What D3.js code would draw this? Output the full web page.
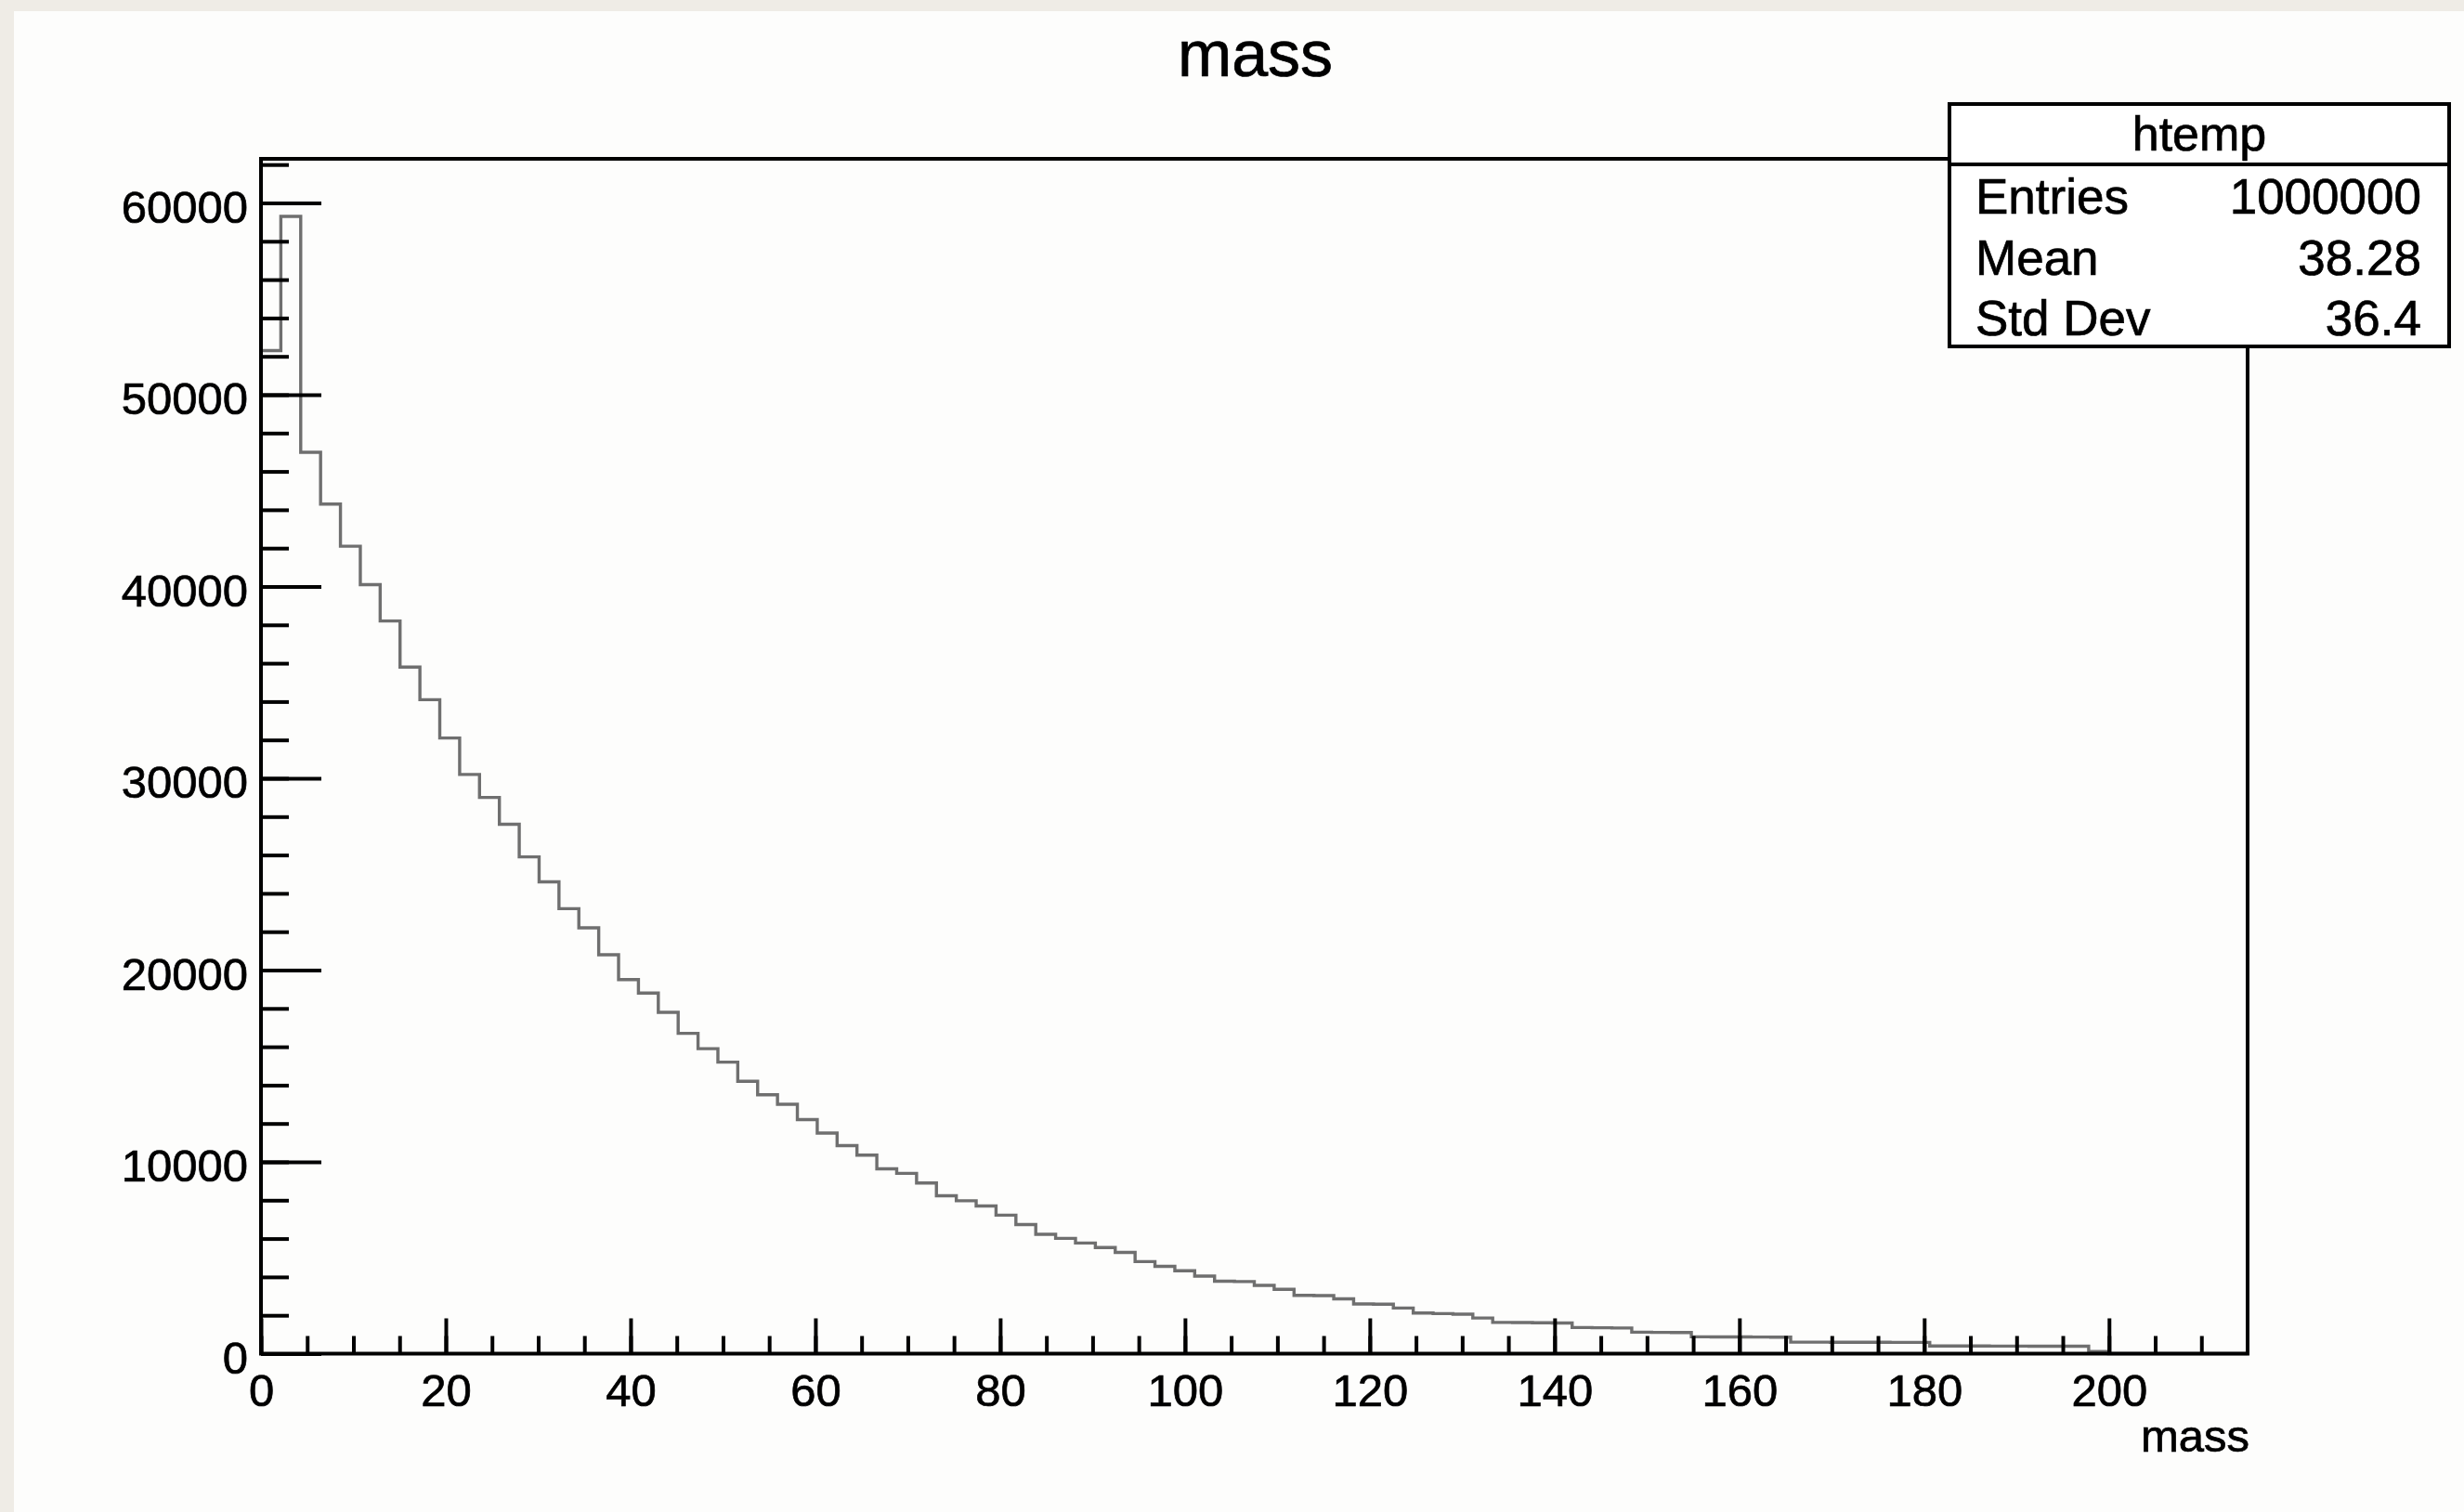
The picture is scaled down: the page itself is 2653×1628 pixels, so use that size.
<!DOCTYPE html>
<meta charset="utf-8">
<style>
body { margin: 0; background: #efece6; }
svg { display: block; font-family: 'Liberation Sans', Arial, sans-serif; }
svg text { stroke: #000; stroke-width: 0.7px; }
.axis text { font-size: 49px; fill: #000; font-family: 'Liberation Sans', Arial, sans-serif; }
.axis line { stroke: #000; stroke-width: 4; }
.axis .domain { display: none; }
</style>
<body>
<script src="https://cdn.jsdelivr.net/npm/d3@7"></script>
<script>
var width = 2653
var height = 1628

// histogram "mass": 100 bins over [0, 215]
var xMin = 0
var xMax = 215
var nBins = 100
var counts = [
    52300, 59300, 47000, 44300, 42100, 40100, 38200, 35800, 34100, 32100,
    30200, 29000, 27600, 25900, 24600, 23200, 22200, 20800, 19500, 18800,
    17800, 16700, 15900, 15200, 14200, 13500, 13000, 12200, 11500, 10850,
    10350, 9640, 9400, 8900, 8230, 7970, 7700, 7220, 6730, 6220,
    6010, 5770, 5530, 5280, 4800, 4550, 4320, 4040, 3780, 3760,
    3560, 3350, 3040, 3030, 2860, 2590, 2580, 2380, 2120, 2090,
    2060, 1860, 1630, 1620, 1610, 1600, 1360, 1350, 1340, 1120,
    1110, 1100, 880, 875, 870, 865, 860, 600, 598, 595,
    592, 590, 588, 585, 400, 398, 396, 394, 392, 390,
    388, 386, 110, 0, 0, 0, 0, 0, 0, 0
]
var yMax = 62300

var xMajor = [0, 20, 40, 60, 80, 100, 120, 140, 160, 180, 200]
var xMinor = d3.range(0, 215, 5)
var yMajor = [0, 10000, 20000, 30000, 40000, 50000, 60000]
var yMinor = d3.range(0, 62001, 2000)

var statsTitle = 'htemp'
var statsLabels = ['Entries', 'Mean', 'Std Dev']
var statsValues = ['1000000', '38.28', '36.4']

var frame = { left: 281, right: 2420, top: 171, bottom: 1457.5 }

var x = d3.scaleLinear().domain([xMin, xMax]).range([frame.left, frame.right])
var y = d3.scaleLinear().domain([0, yMax]).range([frame.bottom, frame.top])

var svg = d3.select('body').append('svg')
    .attr('width', width)
    .attr('height', height)

// canvas
svg.append('rect')
    .attr('x', 15).attr('y', 12)
    .attr('width', width - 15).attr('height', height - 12)
    .attr('fill', '#fdfdfc')

// title
svg.append('text')
    .attr('x', (frame.left + frame.right) / 2 + 1)
    .attr('y', 82)
    .attr('text-anchor', 'middle')
    .style('font-size', '70px')
    .text('mass')

// histogram outline
var binW = (xMax - xMin) / nBins
var pts = [[xMin, 0]].concat(counts.map(function (c, i) { return [xMin + i * binW, c] }))
pts.push([xMax, 0])

var line = d3.line()
    .x(function (d) { return x(d[0]) })
    .y(function (d) { return y(d[1]) })
    .curve(d3.curveStepAfter)

svg.append('path')
    .datum(pts)
    .attr('d', line)
    .attr('fill', 'none')
    .attr('stroke', '#6f6f6f')
    .attr('stroke-width', 3.4)

// frame
svg.append('rect')
    .attr('x', frame.left).attr('y', frame.top)
    .attr('width', frame.right - frame.left)
    .attr('height', frame.bottom - frame.top)
    .attr('fill', 'none')
    .attr('stroke', '#000')
    .attr('stroke-width', 4)

// x axis
svg.append('g').attr('class', 'axis')
    .attr('transform', 'translate(0,' + frame.bottom + ')')
    .call(d3.axisBottom(x).tickValues(xMinor).tickSize(-19).tickFormat(''))
svg.append('g').attr('class', 'axis')
    .attr('transform', 'translate(0,' + frame.bottom + ')')
    .call(d3.axisBottom(x).tickValues(xMajor).tickSize(-38).tickPadding(22).tickFormat(d3.format('d')))

// y axis
svg.append('g').attr('class', 'axis')
    .attr('transform', 'translate(' + frame.left + ',0)')
    .call(d3.axisLeft(y).tickValues(yMinor).tickSize(-30).tickFormat(''))
svg.append('g').attr('class', 'axis')
    .attr('transform', 'translate(' + frame.left + ',0)')
    .call(d3.axisLeft(y).tickValues(yMajor).tickSize(-65).tickPadding(14).tickFormat(d3.format('d')))
    .selectAll('text').attr('dy', '0.42em')

// x axis title
svg.append('text')
    .attr('x', frame.right + 2)
    .attr('y', 1563)
    .attr('text-anchor', 'end')
    .style('font-size', '49px')
    .text('mass')

// stats box
var box = { left: 2099, right: 2637, top: 112, bottom: 373, split: 177 }
var stats = svg.append('g')
stats.append('rect')
    .attr('x', box.left).attr('y', box.top)
    .attr('width', box.right - box.left)
    .attr('height', box.bottom - box.top)
    .attr('fill', '#fff')
    .attr('stroke', '#000')
    .attr('stroke-width', 4)
stats.append('line')
    .attr('x1', box.left).attr('x2', box.right)
    .attr('y1', box.split).attr('y2', box.split)
    .attr('stroke', '#000')
    .attr('stroke-width', 4)
stats.append('text')
    .attr('x', (box.left + box.right) / 2)
    .attr('y', 162)
    .attr('text-anchor', 'middle')
    .style('font-size', '52px')
    .text(statsTitle)

var rowY = [230, 296, 361]
stats.selectAll('.lab')
    .data(statsLabels)
    .enter().append('text')
    .attr('x', 2127)
    .attr('y', function (d, i) { return rowY[i] })
    .style('font-size', '53px')
    .text(function (d) { return d })
stats.selectAll('.val')
    .data(statsValues)
    .enter().append('text')
    .attr('x', 2607)
    .attr('y', function (d, i) { return rowY[i] })
    .attr('text-anchor', 'end')
    .style('font-size', '53px')
    .text(function (d) { return d })
</script>
</body>
